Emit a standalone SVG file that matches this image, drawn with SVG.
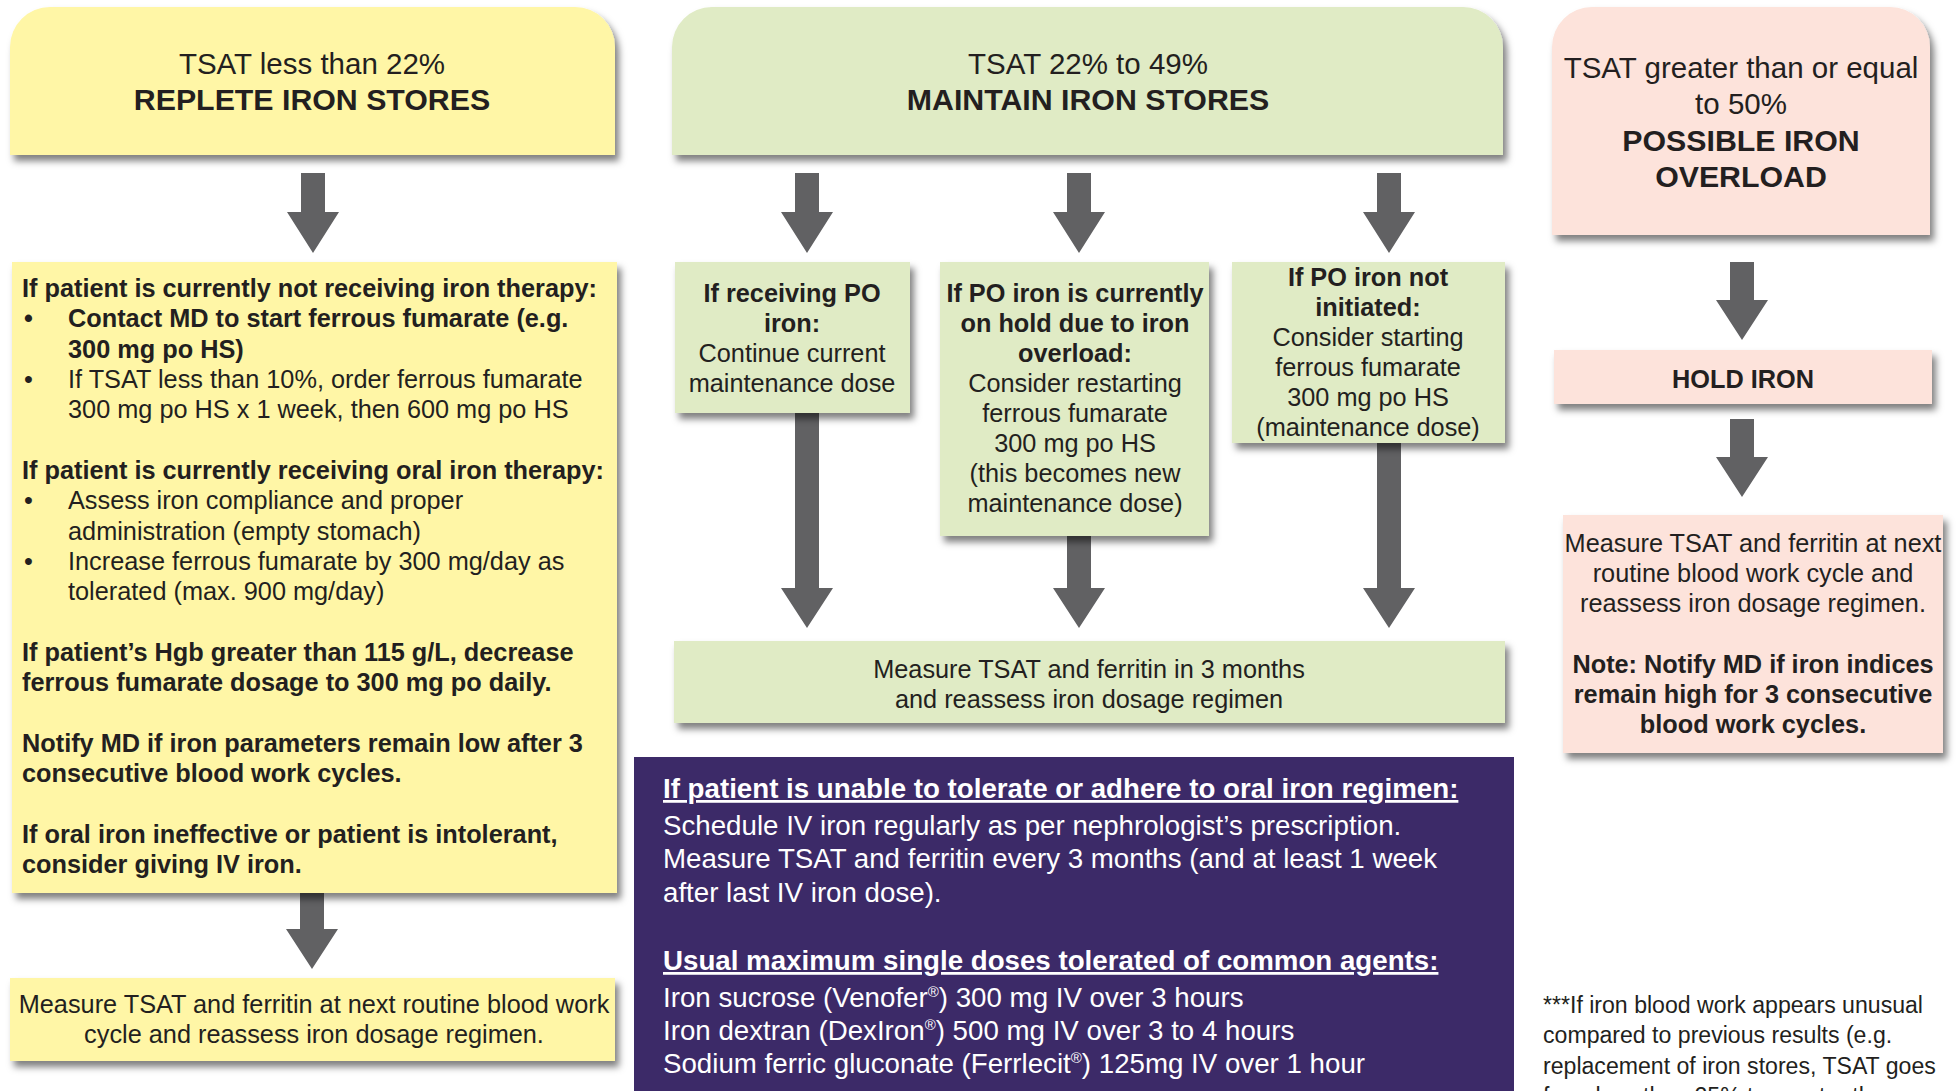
<svg xmlns="http://www.w3.org/2000/svg" width="1957" height="1091" viewBox="0 0 1957 1091">
<defs>
<style>
.t{font-family:"Liberation Sans",Arial,Helvetica,sans-serif;fill:#231f20;font-size:25.3px}
.c{text-anchor:middle}
.b{font-weight:bold}
.h{font-size:29.5px}
.hb{font-size:30.3px}
.w{fill:#ffffff;font-size:27.7px}
.u{text-decoration:underline}
.f{font-size:23.1px}
.y{fill:#fff6a6}
.g{fill:#e0ebc5}
.p{fill:#fde3db}
.arr{fill:#616163}
</style>
<filter id="sh" x="-5%" y="-5%" width="115%" height="130%">
<feDropShadow dx="4" dy="6" stdDeviation="3.5" flood-color="#000" flood-opacity="0.5"/>
</filter>
</defs>
<rect width="1957" height="1091" fill="#ffffff"/>

<g id="connectors">
<polygon class="arr" points="301,173 325,173 325,212 339,212 313,253 287,212 301,212"/>
<polygon class="arr" points="795,173 819,173 819,212 833,212 807,253 781,212 795,212"/>
<polygon class="arr" points="1067,173 1091,173 1091,212 1105,212 1079,253 1053,212 1067,212"/>
<polygon class="arr" points="1377,173 1401,173 1401,212 1415,212 1389,253 1363,212 1377,212"/>
<polygon class="arr" points="300,893 324,893 324,929 338,929 312,969 286,929 300,929"/>
<polygon class="arr" points="795,413 819,413 819,588 833,588 807,628 781,588 795,588"/>
<polygon class="arr" points="1067,536 1091,536 1091,588 1105,588 1079,628 1053,588 1067,588"/>
<polygon class="arr" points="1377,443 1401,443 1401,588 1415,588 1389,628 1363,588 1377,588"/>
<polygon class="arr" points="1730,262 1754,262 1754,300 1768,300 1742,340 1716,300 1730,300"/>
<polygon class="arr" points="1730,419 1754,419 1754,457 1768,457 1742,497 1716,457 1730,457"/>
</g>

<g id="replete-header">
<path class="y" filter="url(#sh)" d="M10,155 V47 A40,40 0 0 1 50,7 H575 A40,40 0 0 1 615,47 V155 Z"/>
<text class="t h c" x="312" y="74">TSAT less than 22%</text>
<text class="t hb c b" x="312" y="110">REPLETE IRON STORES</text>
</g>

<g id="replete-body">
<rect class="y" filter="url(#sh)" x="12" y="262" width="605" height="631"/>
<text class="t b" x="22" y="297">If patient is currently not receiving iron therapy:</text>
<text class="t b" x="24" y="327">•</text>
<text class="t b" x="68" y="327">Contact MD to start ferrous fumarate (e.g.</text>
<text class="t b" x="68" y="358">300 mg po HS)</text>
<text class="t" x="24" y="388">•</text>
<text class="t" x="68" y="388">If TSAT less than 10%, order ferrous fumarate</text>
<text class="t" x="68" y="418">300 mg po HS x 1 week, then 600 mg po HS</text>
<text class="t b" x="22" y="479">If patient is currently receiving oral iron therapy:</text>
<text class="t" x="24" y="509">•</text>
<text class="t" x="68" y="509">Assess iron compliance and proper</text>
<text class="t" x="68" y="540">administration (empty stomach)</text>
<text class="t" x="24" y="570">•</text>
<text class="t" x="68" y="570">Increase ferrous fumarate by 300 mg/day as</text>
<text class="t" x="68" y="600">tolerated (max. 900 mg/day)</text>
<text class="t b" x="22" y="661">If patient’s Hgb greater than 115 g/L, decrease</text>
<text class="t b" x="22" y="691">ferrous fumarate dosage to 300 mg po daily.</text>
<text class="t b" x="22" y="752">Notify MD if iron parameters remain low after 3</text>
<text class="t b" x="22" y="782">consecutive blood work cycles.</text>
<text class="t b" x="22" y="843">If oral iron ineffective or patient is intolerant,</text>
<text class="t b" x="22" y="873">consider giving IV iron.</text>
</g>

<g id="replete-measure">
<rect class="y" filter="url(#sh)" x="10" y="978" width="605" height="83"/>
<text class="t c" x="314" y="1013">Measure TSAT and ferritin at next routine blood work</text>
<text class="t c" x="314" y="1043">cycle and reassess iron dosage regimen.</text>
</g>

<g id="maintain-header">
<path class="g" filter="url(#sh)" d="M672,155 V47 A40,40 0 0 1 712,7 H1463 A40,40 0 0 1 1503,47 V155 Z"/>
<text class="t h c" x="1088" y="74">TSAT 22% to 49%</text>
<text class="t hb c b" x="1088" y="110">MAINTAIN IRON STORES</text>
</g>

<g id="receiving-po">
<rect class="g" filter="url(#sh)" x="675" y="262" width="235" height="151"/>
<text class="t c b" x="792" y="302">If receiving PO</text>
<text class="t c b" x="792" y="332">iron:</text>
<text class="t c" x="792" y="362">Continue current</text>
<text class="t c" x="792" y="392">maintenance dose</text>
</g>

<g id="po-on-hold">
<rect class="g" filter="url(#sh)" x="940" y="262" width="269" height="274"/>
<text class="t c b" x="1075" y="302">If PO iron is currently</text>
<text class="t c b" x="1075" y="332">on hold due to iron</text>
<text class="t c b" x="1075" y="362">overload:</text>
<text class="t c" x="1075" y="392">Consider restarting</text>
<text class="t c" x="1075" y="422">ferrous fumarate</text>
<text class="t c" x="1075" y="452">300 mg po HS</text>
<text class="t c" x="1075" y="482">(this becomes new</text>
<text class="t c" x="1075" y="512">maintenance dose)</text>
</g>

<g id="po-not-initiated">
<rect class="g" filter="url(#sh)" x="1232" y="262" width="273" height="181"/>
<text class="t c b" x="1368" y="286">If PO iron not</text>
<text class="t c b" x="1368" y="316">initiated:</text>
<text class="t c" x="1368" y="346">Consider starting</text>
<text class="t c" x="1368" y="376">ferrous fumarate</text>
<text class="t c" x="1368" y="406">300 mg po HS</text>
<text class="t c" x="1368" y="436">(maintenance dose)</text>
</g>

<g id="maintain-measure">
<rect class="g" filter="url(#sh)" x="674" y="641" width="831" height="82"/>
<text class="t c" x="1089" y="678">Measure TSAT and ferritin in 3 months</text>
<text class="t c" x="1089" y="708">and reassess iron dosage regimen</text>
</g>

<g id="iv-iron">
<rect x="634" y="757" width="880" height="340" fill="#3c2a68"/>
<text class="t w b u" x="663" y="798">If patient is unable to tolerate or adhere to oral iron regimen:</text>
<text class="t w" x="663" y="835">Schedule IV iron regularly as per nephrologist’s prescription.</text>
<text class="t w" x="663" y="868">Measure TSAT and ferritin every 3 months (and at least 1 week</text>
<text class="t w" x="663" y="902">after last IV iron dose).</text>
<text class="t w b u" x="663" y="970">Usual maximum single doses tolerated of common agents:</text>
<text class="t w" x="663" y="1007">Iron sucrose (Venofer<tspan dy="-10" font-size="15">®</tspan><tspan dy="10">) 300 mg IV over 3 hours</tspan></text>
<text class="t w" x="663" y="1040">Iron dextran (DexIron<tspan dy="-10" font-size="15">®</tspan><tspan dy="10">) 500 mg IV over 3 to 4 hours</tspan></text>
<text class="t w" x="663" y="1073">Sodium ferric gluconate (Ferrlecit<tspan dy="-10" font-size="15">®</tspan><tspan dy="10">) 125mg IV over 1 hour</tspan></text>
</g>

<g id="overload-header">
<path class="p" filter="url(#sh)" d="M1552,235 V47 A40,40 0 0 1 1592,7 H1890 A40,40 0 0 1 1930,47 V235 Z"/>
<text class="t h c" x="1741" y="78">TSAT greater than or equal</text>
<text class="t h c" x="1741" y="114">to 50%</text>
<text class="t hb c b" x="1741" y="151">POSSIBLE IRON</text>
<text class="t hb c b" x="1741" y="187">OVERLOAD</text>
</g>

<g id="hold-iron">
<rect class="p" filter="url(#sh)" x="1554" y="350" width="378" height="54"/>
<text class="t c b" x="1743" y="388" font-size="27.5">HOLD IRON</text>
</g>

<g id="overload-measure">
<rect class="p" filter="url(#sh)" x="1563" y="515" width="380" height="238"/>
<text class="t c" x="1753" y="552">Measure TSAT and ferritin at next</text>
<text class="t c" x="1753" y="582">routine blood work cycle and</text>
<text class="t c" x="1753" y="612">reassess iron dosage regimen.</text>
<text class="t c b" x="1753" y="673">Note: Notify MD if iron indices</text>
<text class="t c b" x="1753" y="703">remain high for 3 consecutive</text>
<text class="t c b" x="1753" y="733">blood work cycles.</text>
</g>

<g id="footnote">
<text class="t f" x="1543" y="1013">***If iron blood work appears unusual</text>
<text class="t f" x="1543" y="1043">compared to previous results (e.g.</text>
<text class="t f" x="1543" y="1074">replacement of iron stores, TSAT goes</text>
<text class="t f" x="1543" y="1104">from less than 25% to greater than</text>
</g>
</svg>
